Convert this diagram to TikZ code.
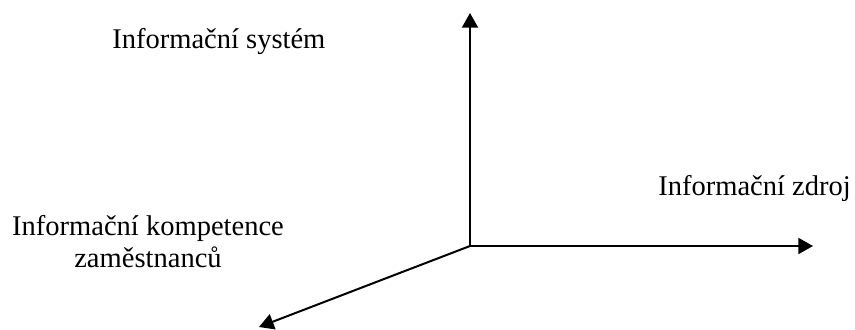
\documentclass[tikz,border=0pt]{standalone}
\usepackage{fontspec}
\setmainfont{Liberation Serif}
\usetikzlibrary{arrows.meta}
\begin{document}
\begin{tikzpicture}[x=0.75pt,y=-0.75pt,
  axis/.style={line width=1.5pt,-{Triangle[length=11pt,width=12pt]}},
  lbl/.style={inner sep=0pt,font=\fontsize{21.4pt}{24pt}\selectfont}]
\useasboundingbox (0,0) rectangle (855,329);
\coordinate (O) at (470,246);
\coordinate (T) at (470,13);
\coordinate (R) at (813,246);
\coordinate (D) at (259,327);
\draw[axis] (O) -- (T);
\draw[axis] (O) -- (R);
\draw[axis] (O) -- (D);
\node[lbl,anchor=base west] (sys) at (112,48) {Informační systém};
\node[lbl,anchor=base west] (zdroj) at (658,195) {Informační zdroj};
\node[lbl,anchor=base] (komp1) at (148,235) {Informační kompetence};
\node[lbl,anchor=base] (komp2) at (148,267) {zaměstnanců};
\end{tikzpicture}
\end{document}
